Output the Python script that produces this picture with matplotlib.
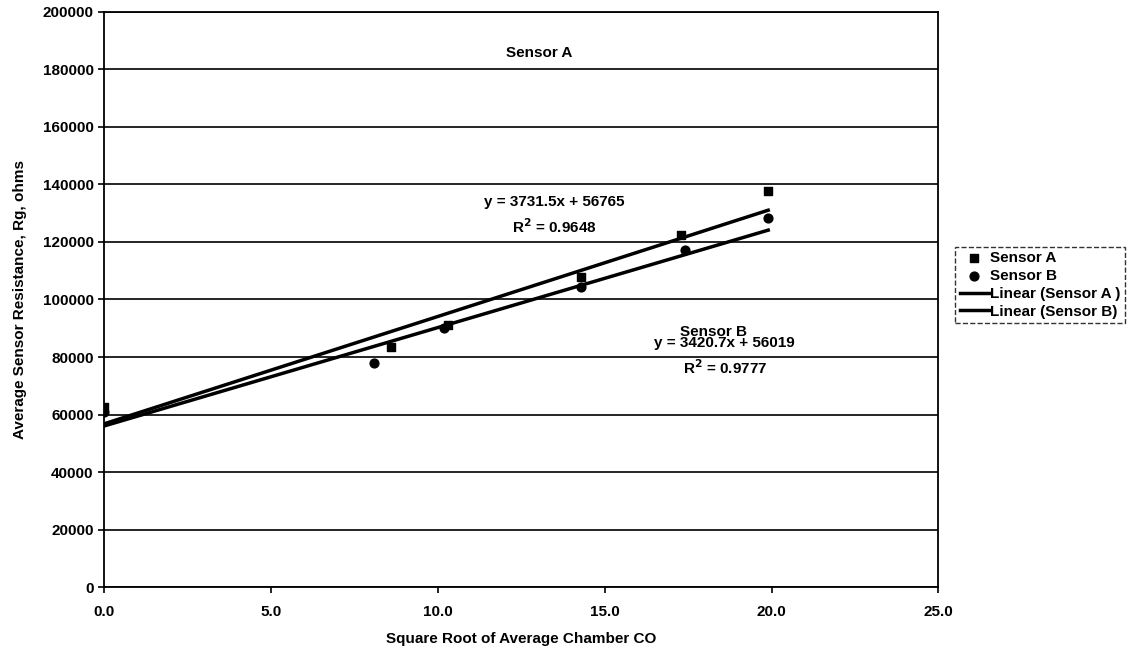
import matplotlib.pyplot as plt
import numpy as np

plt.rcParams['font.family'] = ['Liberation Sans', 'DejaVu Sans']
plt.rcParams['font.weight'] = 'bold'

# measured points
xa = [0.0, 8.6, 10.3, 14.3, 17.3, 19.9]
ya = [62500, 83500, 91000, 107800, 122400, 137700]
xb = [0.0, 8.1, 10.2, 14.3, 17.4, 19.9]
yb = [61000, 78000, 90000, 104300, 117200, 128300]

# trendline coefficients from the chart labels
slope_a, icpt_a, r2_a = 3731.5, 56765, 0.9648
slope_b, icpt_b, r2_b = 3420.7, 56019, 0.9777

FS = 11

fig = plt.figure(figsize=(11.43, 6.51), dpi=100)
ax = fig.add_axes([0.091, 0.098, 0.730, 0.884])

ax.scatter(xa, ya, marker='s', s=40, color='black', label='Sensor A', zorder=3)
ax.scatter(xb, yb, marker='o', s=40, color='black', label='Sensor B', zorder=3)

xl = np.array([0.0, max(xa)])
ax.plot(xl, slope_a * xl + icpt_a, color='black', lw=2.5, label='Linear (Sensor A )')
ax.plot(xl, slope_b * xl + icpt_b, color='black', lw=2.5, label='Linear (Sensor B)')

ax.set_xlim(0, 25)
ax.set_ylim(0, 200000)
ax.set_xticks(np.arange(0, 26, 5))
ax.set_xticklabels([f'{v:.1f}' for v in np.arange(0, 26, 5)])
ax.set_yticks(np.arange(0, 200001, 20000))
ax.yaxis.grid(True, color='black', lw=1.2)
ax.set_axisbelow(True)
for s in ax.spines.values():
    s.set_linewidth(1.3)
ax.tick_params(labelsize=FS, length=4, width=1.2, direction='out')
ax.tick_params(axis='x', pad=9)

ax.set_xlabel('Square Root of Average Chamber CO', fontsize=FS, fontweight='bold')
ax.set_ylabel('Average Sensor Resistance, Rg, ohms', fontsize=FS, fontweight='bold')
ax.xaxis.set_label_coords(0.5, -0.077)
ax.yaxis.set_label_coords(-0.092, 0.5)

ax.text(13.05, 185700, 'Sensor A', fontsize=FS, ha='center', va='center')
ax.text(13.5, 133900, f'y = {slope_a}x + {icpt_a}', fontsize=FS, ha='center', va='center')
ax.text(13.5, 125400, f'R$^2$ = {r2_a}', fontsize=FS, ha='center', va='center')
ax.text(18.25, 88700, 'Sensor B', fontsize=FS, ha='center', va='center')
ax.text(18.6, 84900, f'y = {slope_b}x + {icpt_b}', fontsize=FS, ha='center', va='center')
ax.text(18.6, 76400, f'R$^2$ = {r2_b}', fontsize=FS, ha='center', va='center')

leg = ax.legend(loc='center left', bbox_to_anchor=(1.02, 0.525), fontsize=FS,
                frameon=True, fancybox=False, edgecolor='black',
                handlelength=1.9, handletextpad=0.1, borderpad=0.3,
                labelspacing=0.25, borderaxespad=0)
leg.get_frame().set_linewidth(1.0)
leg.get_frame().set_linestyle('--')

fig.savefig('out.png', dpi=100)
